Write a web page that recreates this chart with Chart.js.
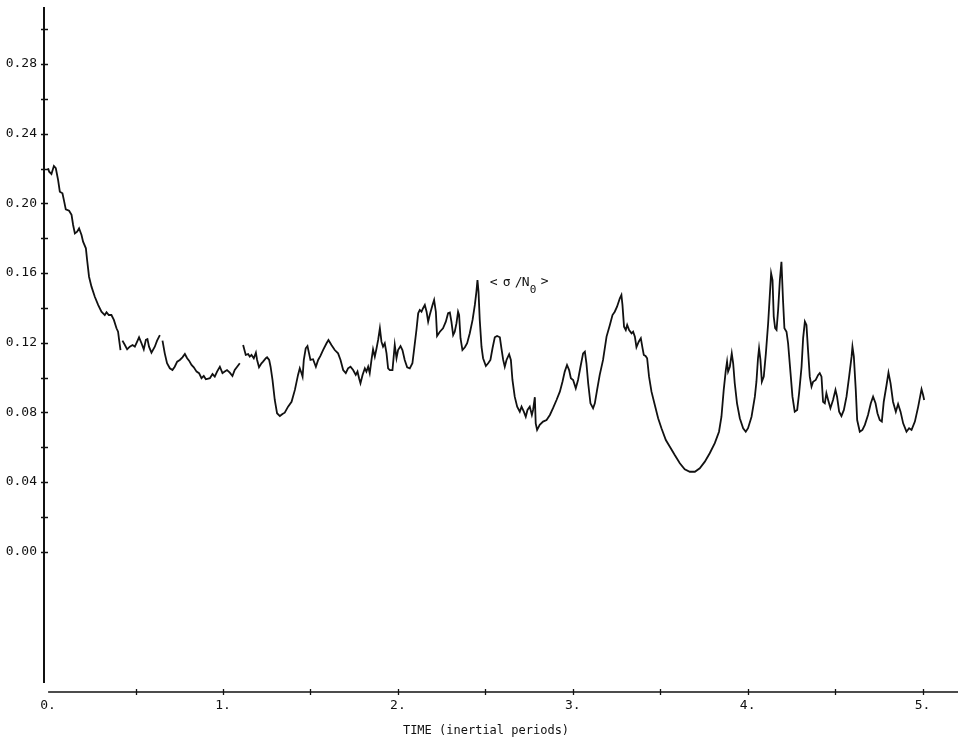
<!DOCTYPE html>
<html>
<head>
<meta charset="utf-8">
<title>sigma / N0 vs time</title>
<script src="https://cdn.jsdelivr.net/npm/chart.js@4.4.1/dist/chart.umd.min.js"></script>
<style>
  html, body { margin: 0; padding: 0; background: #fff; }
  canvas { display: block; }
</style>
</head>
<body>
<canvas id="myChart" width="958" height="742"></canvas>
<script>
// time in inertial periods, null sigma = pen lifted (gap in the trace)
const timeValues = [
  0.000, 0.006, 0.019, 0.033, 0.044, 0.057, 0.067, 0.082, 0.090, 0.101, 0.120, 0.134, 0.143, 0.153, 0.166, 0.177,
  0.191, 0.200, 0.216, 0.223, 0.234, 0.248, 0.267, 0.286, 0.305, 0.324, 0.334, 0.347, 0.362, 0.376, 0.391, 0.400,
  0.406, 0.414, 0.418,
  0.425, 0.439, 0.452, 0.467, 0.483, 0.496, 0.509, 0.520, 0.534, 0.547, 0.559, 0.568, 0.577, 0.591, 0.610, 0.623,
  0.639, 0.648,
  0.654, 0.667, 0.680, 0.696, 0.711, 0.724, 0.738, 0.753, 0.768, 0.782, 0.795, 0.806, 0.820, 0.833, 0.849, 0.863,
  0.877, 0.890, 0.902, 0.925, 0.940, 0.953, 0.966, 0.982, 0.997, 1.010, 1.023, 1.039, 1.054, 1.067, 1.081, 1.096,
  1.105,
  1.115, 1.130, 1.144, 1.153, 1.163, 1.176, 1.188, 1.195, 1.206, 1.220, 1.229, 1.245, 1.252, 1.264, 1.272, 1.283,
  1.296, 1.309, 1.325, 1.340, 1.353, 1.372, 1.392, 1.411, 1.429, 1.439, 1.449, 1.455, 1.462, 1.473, 1.483, 1.492,
  1.500, 1.515, 1.531, 1.544, 1.557, 1.572, 1.592, 1.603, 1.620, 1.639, 1.658, 1.672, 1.687, 1.702, 1.715, 1.729,
  1.744, 1.759, 1.769, 1.778, 1.786, 1.798, 1.811, 1.820, 1.830, 1.839, 1.849, 1.858, 1.868, 1.878, 1.887, 1.897,
  1.906, 1.915, 1.925, 1.935, 1.944, 1.954, 1.969, 1.982, 1.992, 2.001, 2.015, 2.026, 2.039, 2.053, 2.068, 2.083,
  2.097, 2.106, 2.116, 2.125, 2.135, 2.144, 2.154, 2.164, 2.173, 2.182, 2.198, 2.207, 2.217, 2.224, 2.240, 2.258,
  2.274, 2.287, 2.297, 2.306, 2.316, 2.325, 2.335, 2.344, 2.350, 2.358, 2.369, 2.383, 2.396, 2.411, 2.427, 2.440,
  2.449, 2.455, 2.461, 2.468, 2.478, 2.487, 2.503, 2.516, 2.529, 2.541, 2.554, 2.567, 2.583, 2.592, 2.602, 2.611,
  2.621, 2.636, 2.646, 2.655, 2.668, 2.682, 2.697, 2.707, 2.720, 2.731, 2.741, 2.754, 2.766, 2.773, 2.783, 2.788,
  2.796, 2.811, 2.830, 2.850, 2.869, 2.887, 2.907, 2.926, 2.941, 2.954, 2.967, 2.979, 2.989, 3.002, 3.017, 3.030,
  3.044, 3.059, 3.069, 3.078, 3.088, 3.101, 3.116, 3.126, 3.139, 3.154, 3.173, 3.193, 3.212, 3.227, 3.240, 3.253,
  3.269, 3.278, 3.284, 3.293, 3.303, 3.311, 3.322, 3.336, 3.345, 3.355, 3.364, 3.377, 3.389, 3.399, 3.406, 3.416,
  3.425, 3.436, 3.450, 3.469, 3.488, 3.507, 3.532, 3.555, 3.583, 3.612, 3.640, 3.669, 3.698, 3.726, 3.755, 3.783,
  3.812, 3.836, 3.850, 3.863, 3.875, 3.882, 3.888, 3.898, 3.909, 3.917, 3.926, 3.939, 3.955, 3.974, 3.989, 4.002,
  4.022, 4.041, 4.050, 4.059, 4.065, 4.073, 4.081, 4.092, 4.104, 4.117, 4.126, 4.134, 4.142, 4.149, 4.157, 4.165,
  4.174, 4.184, 4.193, 4.202, 4.210, 4.222, 4.231, 4.245, 4.256, 4.269, 4.283, 4.294, 4.308, 4.317, 4.327, 4.336,
  4.345, 4.355, 4.365, 4.374, 4.389, 4.403, 4.412, 4.422, 4.431, 4.441, 4.450, 4.460, 4.473, 4.488, 4.502, 4.511,
  4.523, 4.536, 4.550, 4.565, 4.580, 4.594, 4.599, 4.607, 4.618, 4.626, 4.641, 4.656, 4.670, 4.688, 4.704, 4.717,
  4.731, 4.742, 4.755, 4.767, 4.778, 4.794, 4.805, 4.817, 4.831, 4.847, 4.860, 4.874, 4.889, 4.908, 4.923, 4.937,
  4.956, 4.975, 4.994, 5.003, 5.009
];

const sigmaValues = [
  0.2202, 0.2182, 0.2169, 0.2215, 0.2202, 0.2135, 0.2067, 0.2058, 0.2020, 0.1966, 0.1958, 0.1934, 0.1876, 0.1828, 0.1838, 0.1857,
  0.1819, 0.1780, 0.1742, 0.1675, 0.1579, 0.1522, 0.1464, 0.1417, 0.1378, 0.1359, 0.1375, 0.1359, 0.1359, 0.1331, 0.1283, 0.1263,
  0.1216, 0.1158, null,
  0.1212, 0.1187, 0.1162, 0.1177, 0.1187, 0.1177, 0.1206, 0.1231, 0.1197, 0.1162, 0.1216, 0.1221, 0.1177, 0.1143, 0.1177, 0.1212,
  0.1244, null,
  0.1212, 0.1139, 0.1082, 0.1053, 0.1043, 0.1062, 0.1091, 0.1101, 0.1116, 0.1135, 0.1111, 0.1097, 0.1072, 0.1059, 0.1034, 0.1025,
  0.0996, 0.1009, 0.0990, 0.0996, 0.1020, 0.1005, 0.1034, 0.1062, 0.1025, 0.1034, 0.1043, 0.1028, 0.1009, 0.1043, 0.1062, 0.1082,
  null,
  0.1187, 0.1130, 0.1135, 0.1120, 0.1130, 0.1111, 0.1143, 0.1101, 0.1059, 0.1082, 0.1091, 0.1111, 0.1116, 0.1101, 0.1062, 0.0986,
  0.0871, 0.0795, 0.0779, 0.0791, 0.0798, 0.0833, 0.0861, 0.0929, 0.1015, 0.1053, 0.1025, 0.1005, 0.1101, 0.1168, 0.1181, 0.1139,
  0.1101, 0.1105, 0.1062, 0.1101, 0.1124, 0.1158, 0.1197, 0.1216, 0.1187, 0.1158, 0.1139, 0.1101, 0.1043, 0.1025, 0.1053, 0.1062,
  0.1043, 0.1015, 0.1034, 0.0996, 0.0967, 0.1015, 0.1053, 0.1034, 0.1062, 0.1025, 0.1101, 0.1162, 0.1120, 0.1168, 0.1216, 0.1283,
  0.1206, 0.1177, 0.1197, 0.1139, 0.1053, 0.1043, 0.1043, 0.1187, 0.1111, 0.1158, 0.1181, 0.1158, 0.1101, 0.1059, 0.1053, 0.1082,
  0.1197, 0.1273, 0.1369, 0.1388, 0.1378, 0.1398, 0.1417, 0.1378, 0.1321, 0.1359, 0.1417, 0.1445, 0.1378, 0.1239, 0.1263, 0.1283,
  0.1321, 0.1369, 0.1373, 0.1321, 0.1244, 0.1263, 0.1312, 0.1378, 0.1359, 0.1226, 0.1158, 0.1174, 0.1197, 0.1254, 0.1331, 0.1417,
  0.1493, 0.1560, 0.1493, 0.1331, 0.1177, 0.1111, 0.1066, 0.1082, 0.1101, 0.1168, 0.1231, 0.1239, 0.1231, 0.1168, 0.1101, 0.1062,
  0.1101, 0.1134, 0.1101, 0.0986, 0.0890, 0.0833, 0.0804, 0.0833, 0.0804, 0.0775, 0.0814, 0.0833, 0.0785, 0.0814, 0.0887, 0.0737,
  0.0699, 0.0728, 0.0747, 0.0756, 0.0785, 0.0824, 0.0871, 0.0919, 0.0976, 0.1034, 0.1072, 0.1043, 0.0996, 0.0986, 0.0938, 0.0986,
  0.1062, 0.1139, 0.1149, 0.1082, 0.0967, 0.0852, 0.0824, 0.0852, 0.0929, 0.1015, 0.1101, 0.1235, 0.1302, 0.1359, 0.1378, 0.1407,
  0.1455, 0.1474, 0.1417, 0.1292, 0.1273, 0.1302, 0.1273, 0.1254, 0.1263, 0.1235, 0.1174, 0.1206, 0.1226, 0.1168, 0.1130, 0.1124,
  0.1111, 0.1005, 0.0919, 0.0842, 0.0766, 0.0709, 0.0641, 0.0603, 0.0555, 0.0508, 0.0473, 0.0459, 0.0459, 0.0479, 0.0517, 0.0565,
  0.0623, 0.0689, 0.0775, 0.0929, 0.1043, 0.1091, 0.1034, 0.1062, 0.1139, 0.1082, 0.0967, 0.0852, 0.0766, 0.0709, 0.0689, 0.0709,
  0.0775, 0.0890, 0.0976, 0.1111, 0.1168, 0.1101, 0.0976, 0.1005, 0.1139, 0.1312, 0.1464, 0.1599, 0.1560, 0.1350, 0.1283, 0.1273,
  0.1388, 0.1560, 0.1665, 0.1445, 0.1283, 0.1263, 0.1197, 0.1025, 0.0890, 0.0804, 0.0814, 0.0910, 0.1062, 0.1226, 0.1321, 0.1302,
  0.1158, 0.1005, 0.0948, 0.0976, 0.0986, 0.1015, 0.1025, 0.1005, 0.0861, 0.0852, 0.0910, 0.0871, 0.0824, 0.0871, 0.0929, 0.0890,
  0.0804, 0.0779, 0.0814, 0.0890, 0.1005, 0.1120, 0.1177, 0.1120, 0.0929, 0.0756, 0.0689, 0.0699, 0.0728, 0.0785, 0.0852, 0.0890,
  0.0852, 0.0795, 0.0756, 0.0747, 0.0861, 0.0957, 0.1028, 0.0967, 0.0861, 0.0804, 0.0848, 0.0804, 0.0737, 0.0689, 0.0709, 0.0699,
  0.0747, 0.0833, 0.0933, 0.0900, 0.0871
];

const yTickValues = [0.00, 0.04, 0.08, 0.12, 0.16, 0.20, 0.24, 0.28];
const yTickLabels = ['0.00', '0.04', '0.08', '0.12', '0.16', '0.20', '0.24', '0.28'];
const yMinorTicks = [0.00, 0.02, 0.04, 0.06, 0.08, 0.10, 0.12, 0.14, 0.16, 0.18, 0.20, 0.22, 0.24, 0.26, 0.28, 0.30];
const xTickValues = [0, 1, 2, 3, 4, 5];
const xTickLabels = ['0.', '1.', '2.', '3.', '4.', '5.'];
const xMinorTicks = [0.5, 1.0, 1.5, 2.0, 2.5, 3.0, 3.5, 4.0, 4.5, 5.0];
const curveLabel = { t: 2.525, v: 0.1543 };

const monoFont = "'DejaVu Sans Mono', 'Liberation Mono', monospace";
const ink = '#111';

// axes drawn by hand: ticks cross the axis line like the plotter output
const plotterAxes = {
  id: 'plotterAxes',
  afterDraw(chart) {
    const ctx = chart.ctx;
    const xs = chart.scales.x, ys = chart.scales.y;
    const area = chart.chartArea;
    ctx.save();
    ctx.strokeStyle = ink;
    ctx.lineCap = 'butt';

    // y axis
    ctx.lineWidth = 2;
    ctx.beginPath();
    ctx.moveTo(area.left, area.top);
    ctx.lineTo(area.left, area.bottom - 9);
    ctx.stroke();

    ctx.lineWidth = 1.5;
    yMinorTicks.forEach(v => {
      const py = Math.round(ys.getPixelForValue(v)) + 0.5;
      ctx.beginPath();
      ctx.moveTo(area.left - 3, py);
      ctx.lineTo(area.left + 4, py);
      ctx.stroke();
    });

    // x axis
    ctx.lineWidth = 1.6;
    ctx.beginPath();
    ctx.moveTo(xs.getPixelForValue(0), area.bottom);
    ctx.lineTo(chart.width, area.bottom);
    ctx.stroke();

    ctx.lineWidth = 1.3;
    xMinorTicks.forEach(t => {
      const px = Math.round(xs.getPixelForValue(t)) + 0.5;
      ctx.beginPath();
      ctx.moveTo(px, area.bottom - 3);
      ctx.lineTo(px, area.bottom + 3);
      ctx.stroke();
    });

    // curve label  < sigma / N0 >
    const lx = xs.getPixelForValue(curveLabel.t);
    const ly = ys.getPixelForValue(curveLabel.v);
    ctx.fillStyle = ink;
    ctx.textBaseline = 'middle';
    ctx.textAlign = 'left';
    ctx.font = '13px ' + monoFont;
    ctx.fillText('<', lx, ly);
    ctx.fillText('\u03C3', lx + 13, ly);
    ctx.fillText('/', lx + 25, ly);
    ctx.fillText('N', lx + 32, ly);
    ctx.font = '11px ' + monoFont;
    ctx.fillText('0', lx + 40, ly + 7);
    ctx.font = '13px ' + monoFont;
    ctx.fillText('>', lx + 51, ly - 1);
    ctx.restore();
  }
};

const ctx = document.getElementById('myChart').getContext('2d');
new Chart(ctx, {
  type: 'line',
  data: {
    datasets: [{
      label: '<σ/N0>',
      data: timeValues.map((t, i) => ({ x: t, y: sigmaValues[i] })),
      borderColor: ink,
      borderWidth: 1.8,
      pointRadius: 0,
      fill: false,
      tension: 0,
      spanGaps: false
    }]
  },
  options: {
    responsive: false,
    animation: false,
    layout: { padding: { top: 7, right: 30, left: 0, bottom: 0 } },
    plugins: {
      legend: { display: false },
      tooltip: { enabled: false }
    },
    scales: {
      x: {
        type: 'linear',
        min: -0.0235,
        max: 5.031,
        border: { display: false },
        grid: { display: false, drawTicks: false },
        afterBuildTicks: axis => { axis.ticks = xTickValues.map(v => ({ value: v })); },
        afterFit: axis => {
          axis.height = 50;
          axis.paddingLeft = 0;
          axis.paddingRight = 0;
        },
        ticks: {
          padding: 6,
          maxRotation: 0,
          autoSkip: false,
          color: ink,
          font: { family: monoFont, size: 13 },
          callback: (value, index) => xTickLabels[index]
        },
        title: {
          display: true,
          text: 'TIME (inertial periods)',
          color: ink,
          font: { family: monoFont, size: 12 },
          padding: { top: 0, bottom: 4 }
        }
      },
      y: {
        type: 'linear',
        min: -0.0806,
        max: 0.3128,
        border: { display: false },
        grid: { display: false, drawTicks: false },
        afterBuildTicks: axis => { axis.ticks = yTickValues.map(v => ({ value: v })); },
        afterFit: axis => {
          axis.width = 44;
          axis.paddingTop = 0;
          axis.paddingBottom = 0;
        },
        ticks: {
          padding: 7,
          autoSkip: false,
          color: ink,
          font: { family: monoFont, size: 13 },
          callback: (value, index) => yTickLabels[index]
        }
      }
    }
  },
  plugins: [plotterAxes]
});
</script>
</body>
</html>
